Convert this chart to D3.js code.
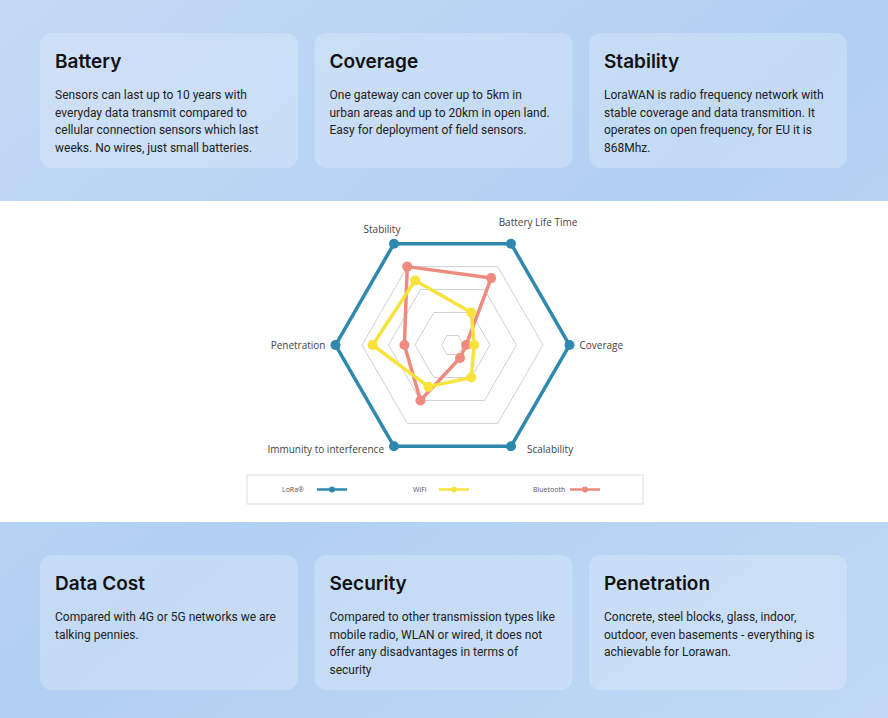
<!DOCTYPE html><html><head><meta charset="utf-8">
<script src="https://d3js.org/d3.v7.min.js"></script>
<style>body{margin:0;overflow:hidden}svg{display:block}</style></head><body>
<script>
const axes=["Coverage","Scalability","Immunity to interference","Penetration","Stability","Battery Life Time"];
const lora=[5,5,5,5,5,5];
const wifi=[1.4,2,2.4,3.6,3.4,2];
const bluetooth=[1.1,1.15,3,2.4,4,3.5];
const seriesNames=["LoRa®","WiFi","Bluetooth"];
const levels=[1,2,3,4,5];
const topCards=[["Battery",["Sensors can last up to 10 years with","everyday data transmit compared to","cellular connection sensors which last","weeks. No wires, just small batteries."]],
["Coverage",["One gateway can cover up to 5km in","urban areas and up to 20km in open land.","Easy for deployment of field sensors."]],
["Stability",["LoraWAN is radio frequency network with","stable coverage and data transmition. It","operates on open frequency, for EU it is","868Mhz."]]];
const botCards=[["Data Cost",["Compared with 4G or 5G networks we are","talking pennies."]],
["Security",["Compared to other transmission types like","mobile radio, WLAN or wired, it does not","offer any disadvantages in terms of","security"]],
["Penetration",["Concrete, steel blocks, glass, indoor,","outdoor, even basements - everything is","achievable for Lorawan."]]];
const colors=["#2f88ae","#f8e23c","#ee8a7e"];
const W=888,H=718;
const svg=d3.select("body").append("svg").attr("width",W).attr("height",H);
const defs=svg.append("defs");
const g1=defs.append("linearGradient").attr("id","bg").attr("x1",0).attr("y1",0).attr("x2",1).attr("y2",1);
g1.append("stop").attr("offset",0).attr("stop-color","#c3d9f5");
g1.append("stop").attr("offset",0.5).attr("stop-color","#b2d0f3");
g1.append("stop").attr("offset",1).attr("stop-color","#c0d8f5");
svg.append("rect").attr("width",W).attr("height",H).attr("fill","url(#bg)");
svg.append("rect").attr("y",201).attr("width",W).attr("height",321).attr("fill","#fff");
function cards(data,y){
 data.forEach((c,i)=>{
  const x=40+i*274.5;
  svg.append("rect").attr("x",x).attr("y",y).attr("width",258).attr("height",135).attr("rx",12).attr("fill","rgba(255,255,255,0.22)");
  svg.append("text").attr("x",x+15).attr("y",y+35).text(c[0]).attr("font-family","Inter, Lato, sans-serif").attr("font-weight",600).attr("font-size",19).attr("fill","#111");
  c[1].forEach((l,j)=>svg.append("text").attr("x",x+15).attr("y",y+66+j*17.5).text(l).attr("font-family","Roboto, sans-serif").attr("font-size",12).attr("fill","#222"));
 });
}
cards(topCards,33);cards(botCards,555);
const cx=452.5,cy=345;
const r=d3.scaleLinear().domain([1,5]).range([11,117]);
const ang=i=>i*Math.PI/3;
const pt=(v,i)=>[cx+r(v)*Math.cos(ang(i)),cy+r(v)*Math.sin(ang(i))];
const line=d3.line().curve(d3.curveLinearClosed);
const gr=svg.append("g");
levels.forEach(l=>gr.append("path").attr("d",line(axes.map((a,i)=>pt(l,i)))).attr("fill","none").attr("stroke","#d0d0d0").attr("stroke-width",1));
[lora,wifi,bluetooth].map((d,k)=>({d,k})).reverse().forEach(({d,k})=>{
 const p=d.map((v,i)=>pt(v,i));
 gr.append("path").attr("d",line(p)).attr("fill","none").attr("stroke",colors[k]).attr("stroke-width",3.5).attr("stroke-linejoin","round");
 gr.selectAll(null).data(p).enter().append("circle").attr("cx",q=>q[0]).attr("cy",q=>q[1]).attr("r",5).attr("fill",colors[k]);
});
const lab=[[10,0,"start"],[12,10,"start"],[-10,10,"end"],[-10,0,"end"],[-10,-10,"middle"],[12,-10,"middle"]];
axes.forEach((a,i)=>{const p=pt(5,i);const o=lab[i];
 let x=p[0]+o[0],y=p[1]+o[1]+4,anc=o[2];
 if(i==4){x=p[0]-12;y=p[1]-11;}
 if(i==5){x=p[0]+27;y=p[1]-18;}
 if(i==1){x=p[0]+16;y=p[1]+7;}
 if(i==2){x=p[0]-10;y=p[1]+7;}
 gr.append("text").attr("x",x).attr("y",y).attr("text-anchor",anc).text(a).attr("font-family","Open Sans, sans-serif").attr("font-size",10).attr("fill","#444");});
svg.append("rect").attr("x",247).attr("y",475).attr("width",396).attr("height",29).attr("fill","#fff").attr("stroke","#ddd");
const lx=[282,413,533];
seriesNames.forEach((n,k)=>{
 svg.append("text").attr("x",lx[k]).attr("y",492).text(n).attr("font-family","Open Sans, sans-serif").attr("font-size",7).attr("fill","#555");
 const sx=lx[k]+(k==0?35:k==1?26:37);
 svg.append("line").attr("x1",sx).attr("x2",sx+30).attr("y1",489.5).attr("y2",489.5).attr("stroke",colors[k]).attr("stroke-width",2.5);
 svg.append("circle").attr("cx",sx+15).attr("cy",489.5).attr("r",3).attr("fill",colors[k]);
});
</script></body></html>
